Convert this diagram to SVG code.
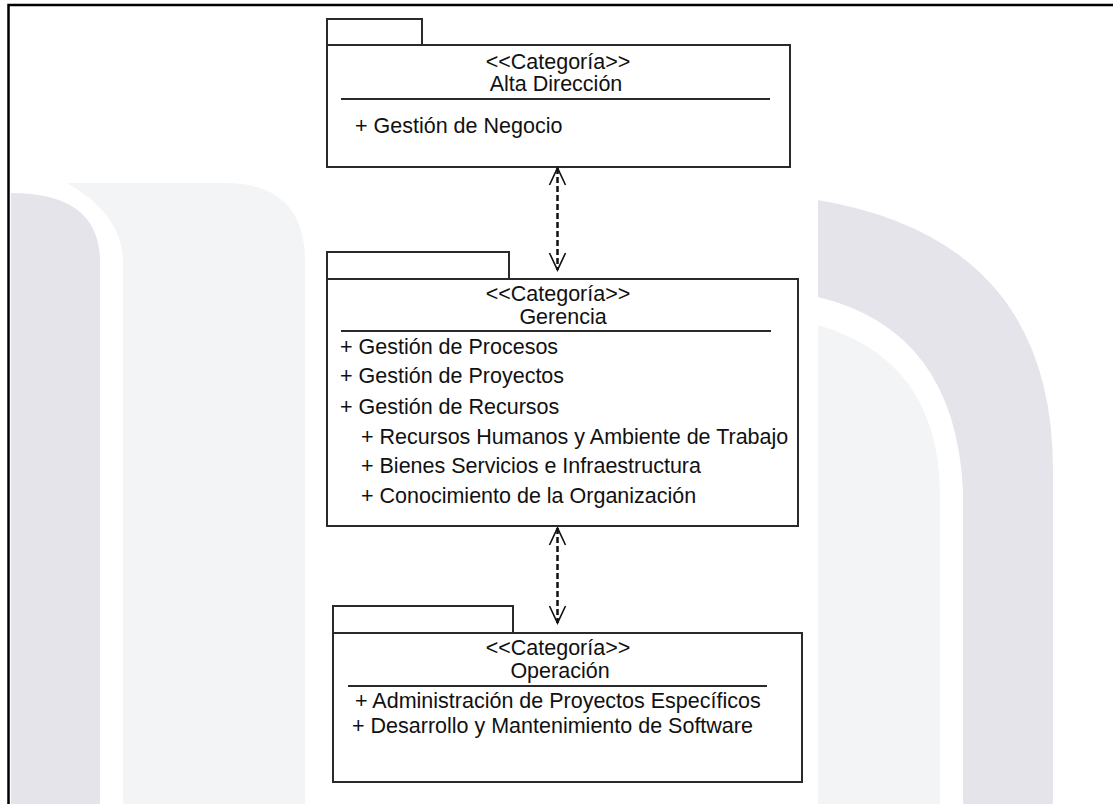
<svg xmlns="http://www.w3.org/2000/svg" width="1113" height="804" viewBox="0 0 1113 804">
  <style>
    .frame { stroke: #000; stroke-width: 2.5; fill: none; }
    .pkg { fill: #fff; stroke: #2a2a2a; stroke-width: 2; }
    .sep { stroke: #2a2a2a; stroke-width: 2; }
    text { font-family: "Liberation Sans", Arial, sans-serif; font-size: 21.5px; fill: #111; }
    .c { text-anchor: middle; }
    .dep { stroke: #111; stroke-width: 2.5; stroke-dasharray: 6 3; fill: none; }
  </style>
  <defs>
    <marker id="open" viewBox="-19 -10 21 20" refX="0" refY="0" markerWidth="21" markerHeight="20" markerUnits="userSpaceOnUse" orient="auto-start-reverse">
      <path d="M-17,-8 L0,0 L-17,8" fill="none" stroke="#111" stroke-width="1.6" stroke-dasharray="none"/>
    </marker>
  </defs>

  <rect width="1113" height="804" fill="#fff"/>

  <!-- background emblem bands -->
  <g id="emblem">
    <path d="M11,804 V193 Q100,193 100,262 V804 Z" fill="#e4e4ea"/>
    <path d="M67,183 H225 Q305,183 305,262 V804 H123 V262 Q123,215 67,183 Z" fill="#f3f4f6"/>
    <path d="M818,804 V325 Q937,360 940,490 V804 Z" fill="#f3f4f6"/>
    <path d="M818,200 Q1053,240 1053,470 V804 H963 V490 Q955,330 818,297 Z" fill="#e4e4ea"/>
  </g>

  <!-- page frame -->
  <path class="frame" d="M8.5,804 V5 H1113"/>

  <g id="alta-direccion">
    <rect class="pkg" x="327" y="19" width="95" height="26"/>
    <rect class="pkg" x="327" y="45" width="463" height="122"/>
    <text class="c" x="558" y="69">&lt;&lt;Categoría&gt;&gt;</text>
    <text class="c" x="556" y="91">Alta Dirección</text>
    <line class="sep" x1="341" y1="99" x2="770" y2="99"/>
    <text x="355" y="133">+ Gestión de Negocio</text>
  </g>

  <g id="gerencia">
    <rect class="pkg" x="327" y="252" width="182" height="27"/>
    <rect class="pkg" x="327" y="279" width="471" height="247"/>
    <text class="c" x="558" y="301">&lt;&lt;Categoría&gt;&gt;</text>
    <text class="c" x="563" y="324">Gerencia</text>
    <line class="sep" x1="341" y1="331" x2="771" y2="331"/>
    <text x="340" y="354">+ Gestión de Procesos</text>
    <text x="340" y="383">+ Gestión de Proyectos</text>
    <text x="340" y="414">+ Gestión de Recursos</text>
    <text x="361" y="444">+ Recursos Humanos y Ambiente de Trabajo</text>
    <text x="361" y="473">+ Bienes Servicios e Infraestructura</text>
    <text x="361" y="503">+ Conocimiento de la Organización</text>
  </g>

  <g id="operacion">
    <rect class="pkg" x="333" y="606" width="180" height="27"/>
    <rect class="pkg" x="333" y="633" width="469" height="149"/>
    <text class="c" x="558" y="655">&lt;&lt;Categoría&gt;&gt;</text>
    <text class="c" x="560" y="678">Operación</text>
    <line class="sep" x1="348" y1="686" x2="767" y2="686"/>
    <text x="355" y="708">+ Administración de Proyectos Específicos</text>
    <text x="352" y="733">+ Desarrollo y Mantenimiento de Software</text>
  </g>

  <g id="connectors">
    <line class="dep" x1="557.5" y1="168" x2="557.5" y2="270" marker-start="url(#open)" marker-end="url(#open)"/>
    <line class="dep" x1="557.5" y1="528" x2="557.5" y2="623" marker-start="url(#open)" marker-end="url(#open)"/>
  </g>
</svg>
